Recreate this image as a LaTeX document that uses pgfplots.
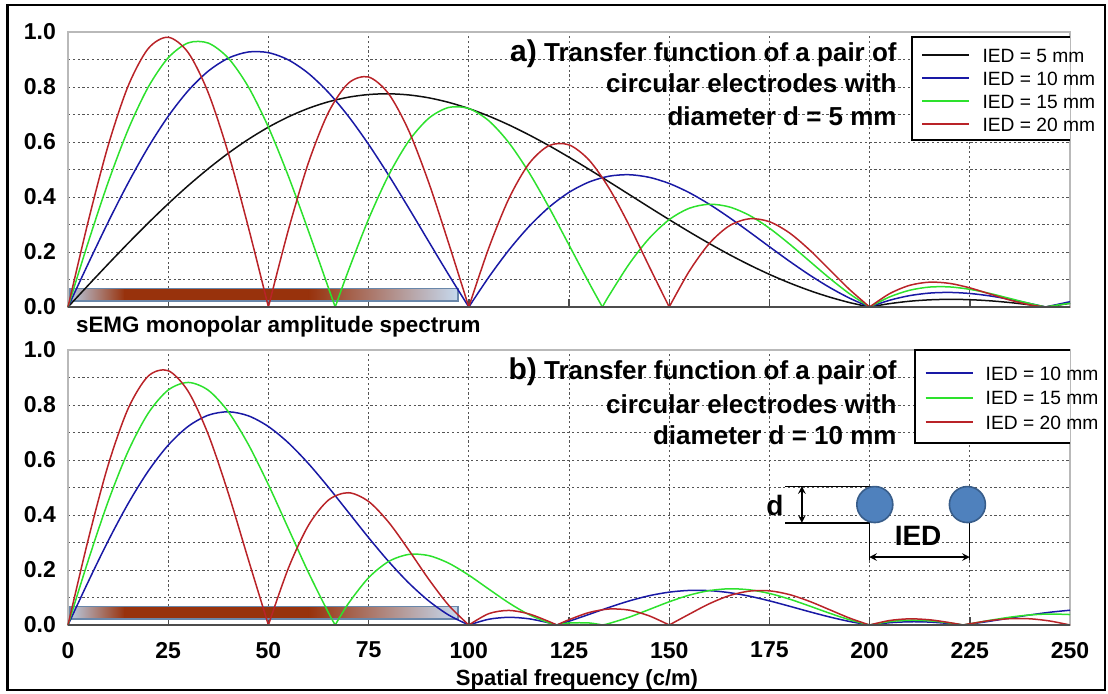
\documentclass[border=0pt]{standalone}
\usepackage{fontspec}
\setmainfont{Liberation Sans}
\usepackage{pgfplots}
\pgfplotsset{compat=1.18}

\definecolor{cblk}{RGB}{15,15,15}
\definecolor{cblu}{RGB}{25,25,165}
\definecolor{cgrn}{RGB}{45,225,45}
\definecolor{cred}{RGB}{185,35,40}
\definecolor{barlight}{RGB}{185,203,225}
\definecolor{barlightb}{RGB}{198,217,238}
\definecolor{barbrown}{RGB}{152,50,12}
\definecolor{barborder}{RGB}{105,135,170}
\definecolor{elecfill}{RGB}{79,129,189}
\definecolor{elecdraw}{RGB}{56,93,138}
\definecolor{gridc}{RGB}{85,85,85}

\pgfplotsset{
  panel/.style={
    scale only axis, width=501pt, height=137.5pt,
    xmin=0, xmax=250, ymin=0, ymax=1,
    xtick={0,25,...,250}, ytick={0,0.2,...,1.0}, minor ytick={0.1,0.3,...,0.9},
    grid=both,
    major grid style={gridc, dash pattern=on 1.1pt off 1.3pt, line width=0.5pt},
    minor grid style={gridc, dash pattern=on 1.1pt off 1.3pt, line width=0.5pt},
    axis line style={draw=gray!55, line width=1pt},
    tick align=inside, xtick pos=left,
    major tick length=4pt, minor tick length=0pt,
    xtick style={black!70, line width=0.7pt},
    ytick style={draw=none},
    tick label style={font=\fontsize{11.5}{12}\selectfont\bfseries},
    /pgf/number format/assume math mode=true,
    yticklabel style={/pgf/number format/.cd, fixed, fixed zerofill, precision=1, /tikz/.cd, xshift=-2.5pt},
    xticklabel style={yshift=-5pt},
    clip=false,
    legend cell align=left,
    legend image code/.code={\draw[#1] (0pt,0pt) -- (23.5pt,0pt);},
  },
  kseg/.style={cblk, line width=0.75pt, smooth, tension=0.5, forget plot},
  bseg/.style={cblu, line width=0.75pt, smooth, tension=0.5, forget plot},
  gseg/.style={cgrn, line width=0.75pt, smooth, tension=0.5, forget plot},
  rseg/.style={cred, line width=0.75pt, smooth, tension=0.5, forget plot},
}

\newcommand{\spectrumbar}{%
  \fill[left color=barlight, right color=barbrown] (axis cs:0.5,0.022) rectangle (axis cs:14.2,0.068);
  \fill[barbrown] (axis cs:14,0.022) rectangle (axis cs:60.2,0.068);
  \fill[left color=barbrown, right color=barlightb] (axis cs:60,0.022) rectangle (axis cs:97.3,0.068);
  \draw[barborder, line width=0.6pt] (axis cs:0.5,0.022) rectangle (axis cs:97.3,0.068);
}

\begin{document}
\begin{tikzpicture}
\useasboundingbox (0pt,0pt) rectangle (554pt,346.5pt);
\draw[black, line width=1.2pt] (3.75pt,1.5pt) rectangle (552.5pt,344pt);

% ---------------- panel a ----------------
\begin{axis}[panel, at={(34pt,193pt)}, anchor=south west, xticklabels={},
  legend style={draw=none, fill=none, inner sep=0pt, column sep=6pt, row sep=4.5pt,
    font=\fontsize{9.6}{11}\selectfont, nodes={inner sep=0pt, text height=7pt, text depth=0pt},
    at={(axis cs:212.8,0.942)}, anchor=north west}]
\spectrumbar
% black IED 5
\addplot[kseg] coordinates {(0,0)(5,0.0784)(10,0.1559)(15,0.2318)(20,0.3052)(25,0.3754)(30,0.4415)(35,0.5030)(40,0.5593)(45,0.6097)(50,0.6540)(55,0.6916)(60,0.7225)(65,0.7463)(70,0.7630)(75,0.7726)(80,0.7753)(85,0.7712)(90,0.7607)(95,0.7440)(100,0.7217)(105,0.6942)(110,0.6622)(115,0.6261)(120,0.5868)(125,0.5447)(130,0.5006)(135,0.4552)(140,0.4092)(145,0.3631)(150,0.3177)(155,0.2734)(160,0.2310)(165,0.1907)(170,0.1532)(175,0.1187)(180,0.0876)(185,0.0600)(190,0.0361)(195,0.0161)(200,0)};
\addplot[kseg] coordinates {(200,0)(205,0.0123)(210,0.0210)(215,0.0261)(220,0.0279)(225,0.0266)(230,0.0226)(235,0.0162)(240,0.0078)(243.9,0)};
\addplot[kseg] coordinates {(243.9,0)(245,0.0023)(250,0.0136)};
% blue IED 10
\addplot[bseg] coordinates {(0,0)(5,0.1563)(10,0.3081)(15,0.4509)(20,0.5806)(25,0.6936)(30,0.7868)(35,0.8578)(40,0.9049)(45,0.9273)(50,0.9249)(55,0.8984)(60,0.8493)(65,0.7798)(70,0.6928)(75,0.5913)(80,0.4792)(85,0.3601)(90,0.2380)(95,0.1168)(100,0)};
\addplot[bseg] coordinates {(100,0)(105,0.1089)(110,0.2072)(115,0.2923)(120,0.3626)(125,0.4169)(130,0.4545)(135,0.4757)(140,0.4810)(145,0.4716)(150,0.4492)(155,0.4158)(160,0.3737)(165,0.3253)(170,0.2730)(175,0.2193)(180,0.1665)(185,0.1166)(190,0.0714)(195,0.0322)(200,0)};
\addplot[bseg] coordinates {(200,0)(205,0.0246)(210,0.0414)(215,0.0507)(220,0.0530)(225,0.0492)(230,0.0404)(235,0.0277)(240,0.0126)(243.9,0)};
\addplot[bseg] coordinates {(243.9,0)(245,0.0035)(250,0.0193)};
% green IED 15
\addplot[gseg] coordinates {(0,0)(5,0.2333)(10,0.4526)(15,0.6450)(20,0.7991)(25,0.9062)(30,0.9605)(35,0.9597)(40,0.9049)(45,0.8005)(50,0.6540)(55,0.4752)(60,0.2760)(65,0.0687)(66.67,0)};
\addplot[gseg] coordinates {(66.67,0)(70,0.1340)(75,0.3200)(80,0.4792)(85,0.6031)(90,0.6862)(95,0.7257)(100,0.7217)(105,0.6771)(110,0.5974)(115,0.4897)(120,0.3626)(125,0.2256)(130,0.0879)(133.33,0)};
\addplot[gseg] coordinates {(133.33,0)(135,0.0419)(140,0.1563)(145,0.2495)(150,0.3177)(155,0.3590)(160,0.3737)(165,0.3639)(170,0.3333)(175,0.2866)(180,0.2292)(185,0.1669)(190,0.1049)(195,0.0480)(200,0)};
\addplot[gseg] coordinates {(200,0)(205,0.0367)(210,0.0609)(215,0.0726)(220,0.0730)(225,0.0643)(230,0.0493)(235,0.0310)(240,0.0126)(243.9,0)};
\addplot[gseg] coordinates {(243.9,0)(245,0.0030)(250,0.0136)};
% red IED 20
\addplot[rseg] coordinates {(0,0)(5,0.3088)(10,0.5860)(15,0.8034)(20,0.9394)(25,0.9809)(30,0.9249)(35,0.7788)(40,0.5593)(45,0.2901)(50,0)};
\addplot[rseg] coordinates {(50,0)(55,0.2811)(60,0.5249)(65,0.7081)(70,0.8144)(75,0.8363)(80,0.7753)(85,0.6416)(90,0.4527)(95,0.2306)(100,0)};
\addplot[rseg] coordinates {(100,0)(105,0.2152)(110,0.3941)(115,0.5210)(120,0.5868)(125,0.5896)(130,0.5344)(135,0.4319)(140,0.2973)(145,0.1476)(150,0)};
\addplot[rseg] coordinates {(150,0)(155,0.1301)(160,0.2310)(165,0.2953)(170,0.3209)(175,0.3102)(180,0.2695)(185,0.2079)(190,0.1358)(195,0.0636)(200,0)};
\addplot[rseg] coordinates {(200,0)(205,0.0486)(210,0.0788)(215,0.0904)(220,0.0858)(225,0.0696)(230,0.0474)(235,0.0252)(240,0.0078)(243.9,0)};
\addplot[rseg] coordinates {(243.9,0)(245,0.0011)(250,0)};
\draw[black!70, line width=0.9pt] (rel axis cs:0,0) -- (rel axis cs:1,0);
% legend box (open on the right, text runs past it)
\fill[white] (axis cs:210.6,0.607) rectangle (axis cs:250,0.982);
\draw[black, line width=0.9pt] (axis cs:250,0.982) -- (axis cs:210.6,0.982) -- (axis cs:210.6,0.607) -- (axis cs:250,0.607);
\addlegendimage{cblk, line width=1.1pt}\addlegendentry{IED = 5 mm}
\addlegendimage{cblu, line width=1.1pt}\addlegendentry{IED = 10 mm}
\addlegendimage{cgrn, line width=1.1pt}\addlegendentry{IED = 15 mm}
\addlegendimage{cred, line width=1.1pt}\addlegendentry{IED = 20 mm}
% title
\node[anchor=base east, font=\fontsize{13}{15}\selectfont\bfseries] at (axis cs:208.5,0.891) {{\fontsize{15}{15}\selectfont a)} Transfer function of a pair of};
\node[anchor=base east, font=\fontsize{13}{15}\selectfont\bfseries] at (axis cs:208.5,0.781) {circular electrodes with};
\node[anchor=base east, font=\fontsize{13}{15}\selectfont\bfseries] at (axis cs:208.5,0.659) {diameter d = 5 mm};
\end{axis}

\node[anchor=base west, font=\fontsize{11.2}{13}\selectfont\bfseries] at (34.5pt,180.5pt) {sEMG monopolar amplitude spectrum};

% ---------------- panel b ----------------
\begin{axis}[panel, at={(34pt,34pt)}, anchor=south west,
  xlabel={Spatial frequency (c/m)},
  xlabel style={font=\fontsize{11}{12}\selectfont\bfseries, at={(axis description cs:0.508,0)}, anchor=center, yshift=-27.5pt},
  legend style={draw=none, fill=none, inner sep=0pt, column sep=6pt, row sep=5.25pt,
    font=\fontsize{9.6}{11}\selectfont, nodes={inner sep=0pt, text height=7pt, text depth=0pt},
    at={(axis cs:213.6,0.942)}, anchor=north west}]
\spectrumbar
% blue IED 10
\addplot[bseg] coordinates {(0,0)(5,0.1560)(10,0.3052)(15,0.4415)(20,0.5593)(25,0.6540)(30,0.7225)(35,0.7630)(40,0.7753)(45,0.7607)(50,0.7217)(55,0.6622)(60,0.5868)(65,0.5006)(70,0.4092)(75,0.3177)(80,0.2310)(85,0.1532)(90,0.0876)(95,0.0361)(100,0)};
\addplot[bseg] coordinates {(100,0)(105,0.0210)(110,0.0279)(115,0.0226)(120,0.0078)(121.97,0)};
\addplot[bseg] coordinates {(121.97,0)(125,0.0136)(130,0.0386)(135,0.0641)(140,0.0875)(145,0.1065)(150,0.1195)(155,0.1258)(160,0.1250)(165,0.1177)(170,0.1049)(175,0.0879)(180,0.0684)(185,0.0483)(190,0.0293)(195,0.0128)(200,0)};
\addplot[bseg] coordinates {(200,0)(205,0.0083)(210,0.0118)(215,0.0106)(220,0.0053)(223.31,0)};
\addplot[bseg] coordinates {(223.31,0)(225,0.0032)(230,0.0138)(235,0.0254)(240,0.0366)(245,0.0464)(250,0.0538)};
% green IED 15
\addplot[gseg] coordinates {(0,0)(5,0.2327)(10,0.4484)(15,0.6316)(20,0.7697)(25,0.8545)(30,0.8820)(35,0.8537)(40,0.7753)(45,0.6566)(50,0.5103)(55,0.3503)(60,0.1907)(65,0.0441)(66.67,0)};
\addplot[gseg] coordinates {(66.67,0)(70,0.0791)(75,0.1719)(80,0.2310)(85,0.2566)(90,0.2524)(95,0.2247)(100,0.1812)(105,0.1304)(110,0.0804)(115,0.0379)(120,0.0078)(121.97,0)};
\addplot[gseg] coordinates {(121.97,0)(125,0.0074)(130,0.0075)(133.33,0)};
\addplot[gseg] coordinates {(133.33,0)(135,0.0056)(140,0.0284)(145,0.0563)(150,0.0845)(155,0.1086)(160,0.1250)(165,0.1317)(170,0.1280)(175,0.1148)(180,0.0942)(185,0.0691)(190,0.0430)(195,0.0191)(200,0)};
\addplot[gseg] coordinates {(200,0)(205,0.0124)(210,0.0173)(215,0.0152)(220,0.0074)(223.31,0)};
\addplot[gseg] coordinates {(223.31,0)(225,0.0041)(230,0.0169)(235,0.0284)(240,0.0366)(245,0.0400)(250,0.0380)};
% red IED 20
\addplot[rseg] coordinates {(0,0)(5,0.3081)(10,0.5806)(15,0.7868)(20,0.9049)(25,0.9249)(30,0.8493)(35,0.6928)(40,0.4792)(45,0.2380)(50,0)};
\addplot[rseg] coordinates {(50,0)(55,0.2072)(60,0.3626)(65,0.4545)(70,0.4810)(75,0.4492)(80,0.3737)(85,0.2730)(90,0.1665)(95,0.0714)(100,0)};
\addplot[rseg] coordinates {(100,0)(105,0.0414)(110,0.0530)(115,0.0404)(120,0.0126)(121.97,0)};
\addplot[rseg] coordinates {(121.97,0)(125,0.0193)(130,0.0454)(135,0.0582)(140,0.0541)(145,0.0333)(150,0)};
\addplot[rseg] coordinates {(150,0)(155,0.0394)(160,0.0773)(165,0.1069)(170,0.1233)(175,0.1243)(180,0.1107)(185,0.0861)(190,0.0557)(195,0.0252)(200,0)};
\addplot[rseg] coordinates {(200,0)(205,0.0164)(210,0.0224)(215,0.0189)(220,0.0086)(223.31,0)};
\addplot[rseg] coordinates {(223.31,0)(225,0.0045)(230,0.0162)(235,0.0230)(240,0.0226)(245,0.0145)(250,0)};
\draw[black!70, line width=0.9pt] (rel axis cs:0,0) -- (rel axis cs:1,0);
% legend box (open on the right, text runs past it)
\fill[white] (axis cs:211.3,0.662) rectangle (axis cs:250,1.0);
\draw[black, line width=0.9pt] (axis cs:250,1.0) -- (axis cs:211.3,1.0) -- (axis cs:211.3,0.662) -- (axis cs:250,0.662);
\addlegendimage{cblu, line width=1.1pt}\addlegendentry{IED = 10 mm}
\addlegendimage{cgrn, line width=1.1pt}\addlegendentry{IED = 15 mm}
\addlegendimage{cred, line width=1.1pt}\addlegendentry{IED = 20 mm}
% title
\node[anchor=base east, font=\fontsize{13}{15}\selectfont\bfseries] at (axis cs:208.5,0.894) {{\fontsize{15}{15}\selectfont b)} Transfer function of a pair of};
\node[anchor=base east, font=\fontsize{13}{15}\selectfont\bfseries] at (axis cs:208.5,0.770) {circular electrodes with};
\node[anchor=base east, font=\fontsize{13}{15}\selectfont\bfseries] at (axis cs:208.5,0.657) {diameter d = 10 mm};
% electrode diagram
\draw[black, line width=0.6pt] (axis cs:178.9,0.505) -- (axis cs:201.1,0.505);
\draw[black, line width=0.6pt] (axis cs:178.9,0.371) -- (axis cs:199.9,0.371) -- (axis cs:199.9,0.236);
\draw[black, line width=0.6pt] (axis cs:225.0,0.371) -- (axis cs:225.0,0.236);
\draw[black, line width=0.7pt, <->, >=stealth] (axis cs:183.1,0.505) -- (axis cs:183.1,0.371);
\draw[black, line width=0.7pt, <->, >=stealth] (axis cs:199.9,0.247) -- (axis cs:225.0,0.247);
\filldraw[fill=elecfill, draw=elecdraw, line width=0.8pt] (axis cs:201.3,0.438) circle[radius=9pt];
\filldraw[fill=elecfill, draw=elecdraw, line width=0.8pt] (axis cs:224.4,0.438) circle[radius=9pt];
\node[font=\fontsize{14}{14}\selectfont\bfseries] at (axis cs:176.4,0.436) {d};
\node[font=\fontsize{14}{14}\selectfont\bfseries] at (axis cs:212.1,0.324) {IED};
\end{axis}
\end{tikzpicture}
\end{document}
